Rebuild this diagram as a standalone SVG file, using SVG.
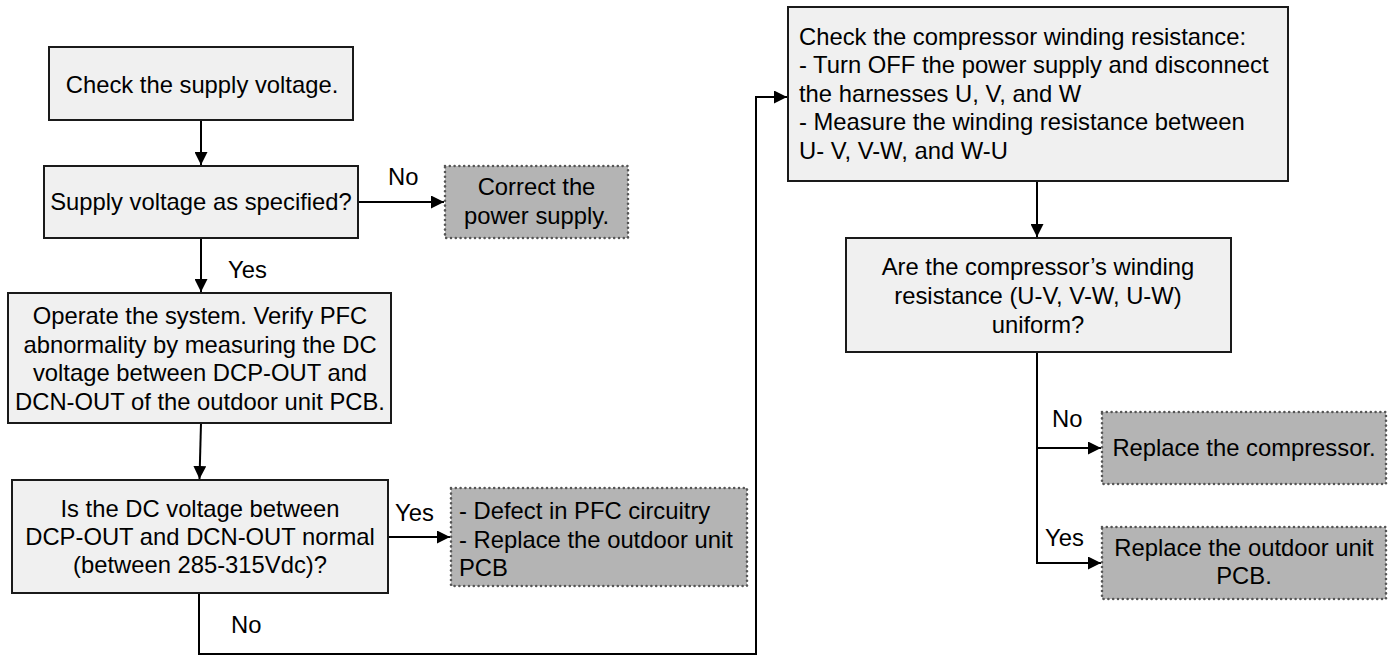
<svg xmlns="http://www.w3.org/2000/svg" width="1391" height="655" viewBox="0 0 1391 655">
<defs>
<style>
.box{fill:#f0f0f0;stroke:#1a1a1a;stroke-width:2}
.end{fill:#b4b4b4;stroke:#555;stroke-width:2.6;stroke-dasharray:0 4.8;stroke-linecap:round}
.t{font-family:"Liberation Sans",Arial,sans-serif;font-size:23.8px;fill:#000}
.c{text-anchor:middle}
.ln{fill:none;stroke:#000;stroke-width:2}
</style>
<marker id="ah" markerUnits="userSpaceOnUse" markerWidth="14" markerHeight="13" refX="13" refY="6.5" orient="auto">
<path d="M0,0 L13,6.5 L0,13 z" fill="#000"/>
</marker>
</defs>
<rect width="1391" height="655" fill="#fff"/>

<g id="connectors">
<line class="ln" x1="201" y1="120" x2="201" y2="165" marker-end="url(#ah)"/>
<line class="ln" x1="358" y1="202" x2="444" y2="202" marker-end="url(#ah)"/>
<line class="ln" x1="201" y1="238" x2="201" y2="292" marker-end="url(#ah)"/>
<line class="ln" x1="201" y1="423" x2="199.5" y2="479" marker-end="url(#ah)"/>
<line class="ln" x1="388" y1="537" x2="450" y2="537" marker-end="url(#ah)"/>
<polyline class="ln" points="199,593 199,654 756,654 756,97 787,97" marker-end="url(#ah)"/>
<line class="ln" x1="1037" y1="182" x2="1037" y2="237" marker-end="url(#ah)"/>
<polyline class="ln" points="1037,352 1037,563 1101,563" marker-end="url(#ah)"/>
<line class="ln" x1="1037" y1="448" x2="1101" y2="448" marker-end="url(#ah)"/>
<text class="t" x="388" y="185">No</text>
<text class="t" x="228" y="278">Yes</text>
<text class="t" x="395" y="521">Yes</text>
<text class="t" x="231" y="633">No</text>
<text class="t" x="1052" y="427">No</text>
<text class="t" x="1045" y="546">Yes</text>
</g>

<g id="n1">
<rect class="box" x="49" y="47" width="304" height="73"/>
<text class="t c" x="202" y="93">Check the supply voltage.</text>
</g>

<g id="n2">
<rect class="box" x="44" y="166" width="314" height="72"/>
<text class="t c" x="201" y="210">Supply voltage as specified?</text>
</g>

<g id="n3">
<rect class="end" x="445" y="166" width="183" height="72"/>
<text class="t c" x="536.5" y="195">Correct the</text>
<text class="t c" x="536.5" y="224">power supply.</text>
</g>

<g id="n4">
<rect class="box" x="8" y="293" width="383" height="130"/>
<text class="t c" x="200" y="324">Operate the system. Verify PFC</text>
<text class="t c" x="200" y="352.5">abnormality by measuring the DC</text>
<text class="t c" x="200" y="381">voltage between DCP-OUT and</text>
<text class="t c" x="200" y="409.5">DCN-OUT of the outdoor unit PCB.</text>
</g>

<g id="n5">
<rect class="box" x="12" y="480" width="376" height="113"/>
<text class="t c" x="200" y="517">Is the DC voltage between</text>
<text class="t c" x="200" y="545">DCP-OUT and DCN-OUT normal</text>
<text class="t c" x="200" y="573">(between 285-315Vdc)?</text>
</g>

<g id="n6">
<rect class="end" x="451" y="488" width="296" height="98"/>
<text class="t" x="459" y="519">- Defect in PFC circuitry</text>
<text class="t" x="459" y="547.5">- Replace the outdoor unit</text>
<text class="t" x="459" y="576">PCB</text>
</g>

<g id="n7">
<rect class="box" x="788" y="7" width="500" height="174"/>
<text class="t" x="799" y="44.5">Check the compressor winding resistance:</text>
<text class="t" x="799" y="73">- Turn OFF the power supply and disconnect</text>
<text class="t" x="799" y="101.5">the harnesses U, V, and W</text>
<text class="t" x="799" y="130">- Measure the winding resistance between</text>
<text class="t" x="799" y="158.5">U- V, V-W, and W-U</text>
</g>

<g id="n8">
<rect class="box" x="846" y="238" width="385" height="114"/>
<text class="t c" x="1038" y="275">Are the compressor’s winding</text>
<text class="t c" x="1038" y="304">resistance (U-V, V-W, U-W)</text>
<text class="t c" x="1038" y="333">uniform?</text>
</g>

<g id="n9">
<rect class="end" x="1102" y="412" width="284" height="72"/>
<text class="t c" x="1244" y="456">Replace the compressor.</text>
</g>

<g id="n10">
<rect class="end" x="1102" y="527" width="284" height="72"/>
<text class="t c" x="1244" y="556">Replace the outdoor unit</text>
<text class="t c" x="1244" y="584">PCB.</text>
</g>
</svg>
